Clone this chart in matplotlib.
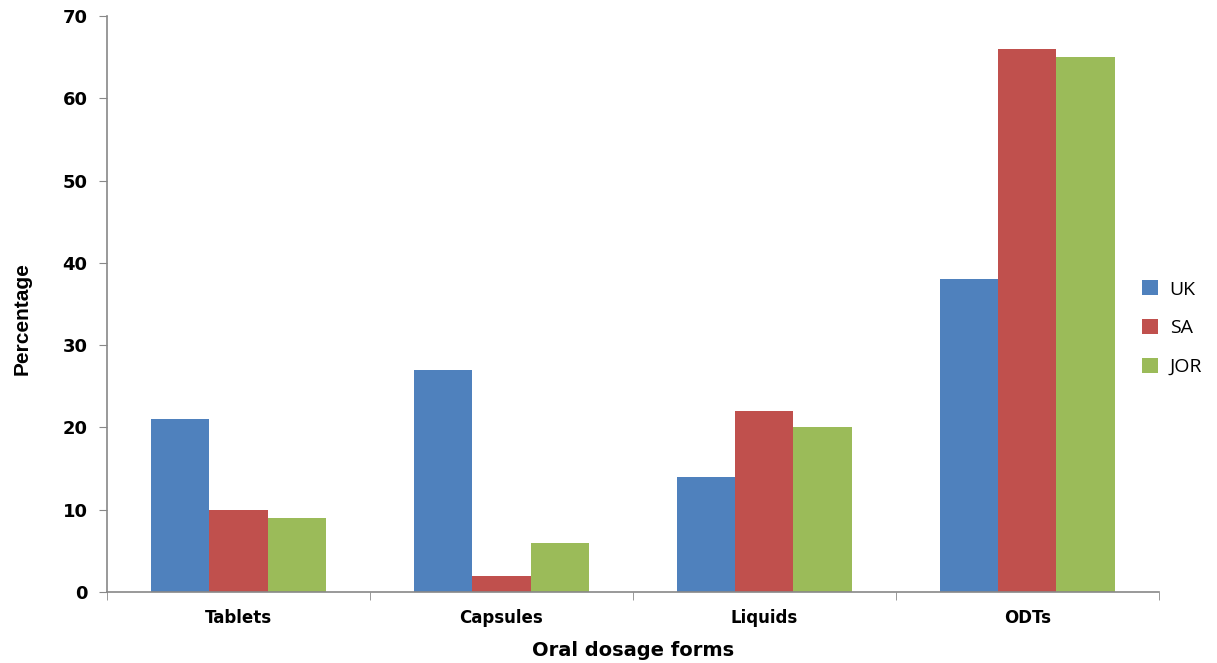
import numpy as np
import matplotlib.pyplot as plt

# survey results per dosage form
categories = ["Tablets", "Capsules", "Liquids", "ODTs"]
uk = [21, 27, 14, 38]
sa = [10, 2, 22, 66]
jor = [9, 6, 20, 65]

series = [("UK", uk, "#4F81BD"), ("SA", sa, "#C0504D"), ("JOR", jor, "#9BBB59")]

fig = plt.figure(figsize=(12.17, 6.63), dpi=100)
ax = fig.add_axes([0.088, 0.107, 0.864, 0.869])

x = np.arange(len(categories))
w = 0.222
for i, (name, vals, col) in enumerate(series):
    ax.bar(x + (i - 1) * w, vals, width=w, color=col, label=name)

ax.set_xlim(-0.5, len(categories) - 0.5)
ax.set_ylim(0, 70)
ax.set_yticks(range(0, 71, 10))
ax.set_yticklabels([str(v) for v in range(0, 71, 10)],
                   fontsize=13, fontweight="bold", family="DejaVu Sans")

# category labels centred, separator ticks between groups
ax.set_xticks(x)
ax.set_xticklabels(categories, fontsize=12, fontweight="bold", family="DejaVu Sans")
ax.tick_params(axis="x", length=0, pad=12)
ax.set_xticks(np.arange(-0.5, len(categories)), minor=True)
ax.tick_params(axis="x", which="minor", length=6, color="#888888", direction="out")
ax.tick_params(axis="y", length=6, color="#888888", direction="out", pad=8)

for s in ("top", "right"):
    ax.spines[s].set_visible(False)
for s in ("left", "bottom"):
    ax.spines[s].set_color("#888888")
    ax.spines[s].set_linewidth(1.2)

ax.set_xlabel("Oral dosage forms", fontsize=14, fontweight="bold",
              family="DejaVu Sans", labelpad=10)
ax.set_ylabel("Percentage", fontsize=15, fontweight="bold",
              family="Liberation Sans")
ax.yaxis.set_label_coords(-0.072, 0.475)

leg = ax.legend(loc="center left", bbox_to_anchor=(0.968, 0.458), frameon=False,
                prop={"family": "Open Sans", "size": 14},
                handlelength=0.8, handleheight=0.8, labelspacing=1.05,
                handletextpad=0.6)

fig.savefig("out.png", dpi=100)
